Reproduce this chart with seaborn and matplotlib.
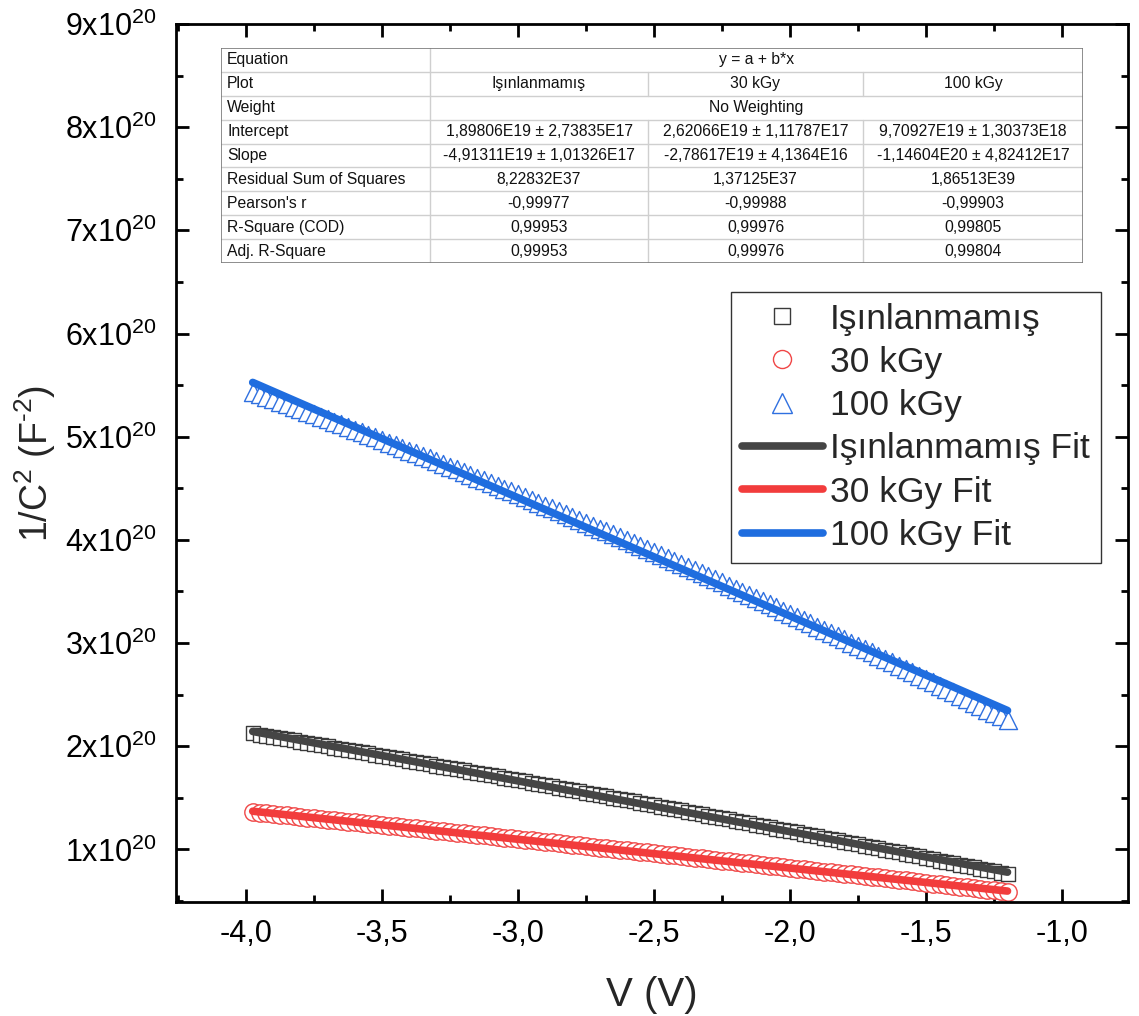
import numpy as np
import pandas as pd
import matplotlib
matplotlib.use("Agg")
import matplotlib.pyplot as plt
import seaborn as sns
from matplotlib.lines import Line2D
from matplotlib.patches import Rectangle
from matplotlib.ticker import MultipleLocator

# ---------------- data (1/C^2 in units of 1e20 F^-2) ----------------
voltage = [
    -3.975, -3.950, -3.925, -3.900, -3.875, -3.850, -3.825, -3.800,
    -3.775, -3.750, -3.725, -3.700, -3.675, -3.650, -3.625, -3.600,
    -3.575, -3.550, -3.525, -3.500, -3.475, -3.450, -3.425, -3.400,
    -3.375, -3.350, -3.325, -3.300, -3.275, -3.250, -3.225, -3.200,
    -3.175, -3.150, -3.125, -3.100, -3.075, -3.050, -3.025, -3.000,
    -2.975, -2.950, -2.925, -2.900, -2.875, -2.850, -2.825, -2.800,
    -2.775, -2.750, -2.725, -2.700, -2.675, -2.650, -2.625, -2.600,
    -2.575, -2.550, -2.525, -2.500, -2.475, -2.450, -2.425, -2.400,
    -2.375, -2.350, -2.325, -2.300, -2.275, -2.250, -2.225, -2.200,
    -2.175, -2.150, -2.125, -2.100, -2.075, -2.050, -2.025, -2.000,
    -1.975, -1.950, -1.925, -1.900, -1.875, -1.850, -1.825, -1.800,
    -1.775, -1.750, -1.725, -1.700, -1.675, -1.650, -1.625, -1.600,
    -1.575, -1.550, -1.525, -1.500, -1.475, -1.450, -1.425, -1.400,
    -1.375, -1.350, -1.325, -1.300, -1.275, -1.250, -1.225, -1.200,
]

unirradiated = [
    2.124, 2.112, 2.101, 2.090, 2.078, 2.067, 2.056, 2.044,
    2.033, 2.022, 2.010, 1.999, 1.987, 1.976, 1.964, 1.953,
    1.941, 1.930, 1.918, 1.907, 1.895, 1.883, 1.872, 1.860,
    1.848, 1.837, 1.825, 1.813, 1.801, 1.790, 1.778, 1.766,
    1.754, 1.742, 1.730, 1.719, 1.707, 1.695, 1.683, 1.671,
    1.659, 1.647, 1.635, 1.623, 1.611, 1.599, 1.587, 1.574,
    1.562, 1.550, 1.538, 1.526, 1.514, 1.501, 1.489, 1.477,
    1.465, 1.452, 1.440, 1.428, 1.415, 1.403, 1.390, 1.378,
    1.366, 1.353, 1.341, 1.328, 1.316, 1.303, 1.291, 1.278,
    1.266, 1.253, 1.240, 1.228, 1.215, 1.202, 1.190, 1.177,
    1.164, 1.151, 1.139, 1.126, 1.113, 1.100, 1.087, 1.075,
    1.062, 1.049, 1.036, 1.023, 1.010, 0.997, 0.984, 0.971,
    0.958, 0.945, 0.932, 0.919, 0.906, 0.892, 0.879, 0.866,
    0.853, 0.840, 0.827, 0.813, 0.800, 0.787, 0.773, 0.760,
]

kgy30 = [
    1.362, 1.355, 1.349, 1.342, 1.336, 1.329, 1.322, 1.316,
    1.309, 1.303, 1.296, 1.289, 1.283, 1.276, 1.269, 1.263,
    1.256, 1.250, 1.243, 1.236, 1.229, 1.223, 1.216, 1.209,
    1.203, 1.196, 1.189, 1.182, 1.176, 1.169, 1.162, 1.155,
    1.149, 1.142, 1.135, 1.128, 1.121, 1.114, 1.108, 1.101,
    1.094, 1.087, 1.080, 1.073, 1.067, 1.060, 1.053, 1.046,
    1.039, 1.032, 1.025, 1.018, 1.011, 1.004, 0.997, 0.990,
    0.983, 0.976, 0.970, 0.963, 0.955, 0.949, 0.942, 0.934,
    0.927, 0.920, 0.913, 0.906, 0.899, 0.892, 0.885, 0.878,
    0.871, 0.864, 0.857, 0.850, 0.843, 0.835, 0.828, 0.821,
    0.814, 0.807, 0.800, 0.792, 0.785, 0.778, 0.771, 0.764,
    0.757, 0.749, 0.742, 0.735, 0.728, 0.720, 0.713, 0.706,
    0.699, 0.691, 0.684, 0.677, 0.669, 0.662, 0.655, 0.647,
    0.640, 0.633, 0.625, 0.618, 0.611, 0.603, 0.596, 0.589,
]

kgy100 = [
    5.435, 5.411, 5.388, 5.364, 5.340, 5.315, 5.291, 5.267,
    5.243, 5.218, 5.194, 5.169, 5.144, 5.119, 5.094, 5.069,
    5.044, 5.019, 4.994, 4.969, 4.943, 4.918, 4.892, 4.866,
    4.840, 4.815, 4.789, 4.762, 4.736, 4.710, 4.684, 4.657,
    4.631, 4.604, 4.577, 4.551, 4.524, 4.497, 4.470, 4.443,
    4.415, 4.388, 4.361, 4.333, 4.306, 4.278, 4.250, 4.222,
    4.194, 4.166, 4.138, 4.110, 4.082, 4.053, 4.025, 3.996,
    3.968, 3.939, 3.910, 3.881, 3.852, 3.823, 3.794, 3.765,
    3.735, 3.706, 3.676, 3.647, 3.617, 3.587, 3.557, 3.527,
    3.497, 3.467, 3.437, 3.406, 3.376, 3.345, 3.315, 3.284,
    3.253, 3.222, 3.192, 3.160, 3.129, 3.098, 3.067, 3.035,
    3.004, 2.972, 2.941, 2.909, 2.877, 2.845, 2.813, 2.781,
    2.749, 2.716, 2.684, 2.652, 2.619, 2.586, 2.554, 2.521,
    2.488, 2.455, 2.422, 2.389, 2.355, 2.322, 2.288, 2.255,
]

# linear fit lines (end points over the data range)
fit_voltage = [-3.975, -1.200]
fit_unirradiated = [2.143, 0.779]
fit_30 = [1.370, 0.596]
fit_100 = [5.526, 2.346]

UNIT = 1e20

series_names = ["Işınlanmamış", "30 kGy", "100 kGy"]
fit_names = ["Işınlanmamış Fit", "30 kGy Fit", "100 kGy Fit"]

x_ticks = [-4.0, -3.5, -3.0, -2.5, -2.0, -1.5, -1.0]
x_tick_labels = ["-4,0", "-3,5", "-3,0", "-2,5", "-2,0", "-1,5", "-1,0"]
y_ticks = [1, 2, 3, 4, 5, 6, 7, 8, 9]
y_tick_labels = [r"$\mathregular{%dx10^{20}}$" % v for v in y_ticks]

table_rows = ["Equation", "Plot", "Weight", "Intercept", "Slope",
              "Residual Sum of Squares", "Pearson's r", "R-Square (COD)",
              "Adj. R-Square"]
equation_txt = "y = a + b*x"
weight_txt = "No Weighting"
intercept_txt = ["1,89806E19 ± 2,73835E17", "2,62066E19 ± 1,11787E17",
                 "9,70927E19 ± 1,30373E18"]
slope_txt = ["-4,91311E19 ± 1,01326E17", "-2,78617E19 ± 4,1364E16",
             "-1,14604E20 ± 4,82412E17"]
rss_txt = ["8,22832E37", "1,37125E37", "1,86513E39"]
pearson_txt = ["-0,99977", "-0,99988", "-0,99903"]
rsq_txt = ["0,99953", "0,99976", "0,99805"]
adjrsq_txt = ["0,99953", "0,99976", "0,99804"]

# ---------------- style ----------------
sns.set_theme(style="ticks")
plt.rcParams["font.family"] = ["Liberation Sans", "DejaVu Sans"]
plt.rcParams["mathtext.fontset"] = "custom"
plt.rcParams["mathtext.rm"] = "Liberation Sans"
plt.rcParams["mathtext.it"] = "Liberation Sans:italic"
plt.rcParams["axes.unicode_minus"] = False

edge_cols = ["#3a3a3a", "#f04646", "#2f70e0"]
line_cols = ["#454545", "#f23c3c", "#1f6ddf"]
markers = ["s", "o", "^"]
msizes = [10.0, 12.5, 13.0]

fig = plt.figure(figsize=(11.39, 10.16), dpi=100)
ax = fig.add_axes([176 / 1139, 1 - 902 / 1016, (1128 - 176) / 1139, (902 - 24) / 1016])

data_series = [unirradiated, kgy30, kgy100]
for vals, m, ms, ec in zip(data_series, markers, msizes, edge_cols):
    df = pd.DataFrame({"V": voltage, "invC2": np.array(vals) * UNIT})
    sns.scatterplot(data=df, x="V", y="invC2", ax=ax, marker=m, s=ms ** 2,
                    facecolor="white", edgecolor=ec, linewidth=1.0, zorder=2,
                    legend=False)

fit_series = [fit_unirradiated, fit_30, fit_100]
for vals, lc in zip(fit_series, line_cols):
    dff = pd.DataFrame({"V": fit_voltage, "invC2": np.array(vals) * UNIT})
    sns.lineplot(data=dff, x="V", y="invC2", ax=ax, color=lc, lw=5.5,
                 solid_capstyle="round", zorder=3, legend=False)

ax.set_xlim(-4.257, -0.757)
ax.set_ylim(0.49 * UNIT, 9.0 * UNIT)
ax.set_xticks(x_ticks)
ax.set_xticklabels(x_tick_labels)
ax.set_yticks([v * UNIT for v in y_ticks])
ax.set_yticklabels(y_tick_labels)
ax.xaxis.set_minor_locator(MultipleLocator(0.25))
ax.yaxis.set_minor_locator(MultipleLocator(0.5 * UNIT))

for sp in ax.spines.values():
    sp.set_linewidth(2.0)
    sp.set_color("black")
ax.tick_params(which="both", direction="in", top=True, right=True,
               colors="black", width=2.0)
ax.tick_params(which="major", length=9.5)
ax.tick_params(which="minor", length=5)
ax.tick_params(axis="x", which="major", labelsize=22, pad=12)
ax.tick_params(axis="y", which="major", labelsize=22, pad=14)

ax.set_xlabel("V (V)", fontsize=29, labelpad=20)
ax.set_ylabel("$\\mathregular{1/C^{2}\\ (F^{\u20102})}$",
              fontsize=27, labelpad=5)
ax.set_facecolor("white")

# ---------------- legend ----------------
handles = []
for m, ms, ec in zip(markers, [12, 13, 15], edge_cols):
    handles.append(Line2D([], [], ls="none", marker=m, markersize=ms,
                          markerfacecolor="white", markeredgecolor=ec,
                          markeredgewidth=1.0))
for lc in line_cols:
    handles.append(Line2D([], [], color=lc, lw=5.5, solid_capstyle="round"))
leg = ax.legend(handles, series_names + fit_names, loc="upper left",
                bbox_to_anchor=(731 / 1139, 1 - 292 / 1016),
                bbox_transform=fig.transFigure, fontsize=25.5,
                frameon=True, fancybox=False, shadow=False,
                edgecolor="#333333", framealpha=1, borderpad=0.3,
                handlelength=2.3, handletextpad=0.2, labelspacing=0.29,
                borderaxespad=0)
leg.get_frame().set_linewidth(1.0)

# ---------------- statistics table ----------------
tx0, tx1, ty0, ty1 = 221, 1083, 48, 263
tab = fig.add_axes([tx0 / 1139, 1 - ty1 / 1016, (tx1 - tx0) / 1139, (ty1 - ty0) / 1016])
tab.set_xlim(0, 1)
tab.set_ylim(9, 0)
tab.axis("off")
tab.add_patch(Rectangle((0, 0), 1, 9, facecolor="white", edgecolor="none", zorder=0))
cols = [(430 - tx0) / (tx1 - tx0), (648 - tx0) / (tx1 - tx0), (863 - tx0) / (tx1 - tx0)]
grid_c = "#cfcfcf"
for r in range(1, 9):
    tab.plot([0, 1], [r, r], color=grid_c, lw=1.0, zorder=1)
tab.plot([cols[0], cols[0]], [0, 9], color=grid_c, lw=1.0, zorder=1)
for c in cols[1:]:
    tab.plot([c, c], [1, 2], color=grid_c, lw=1.0, zorder=1)
    tab.plot([c, c], [3, 9], color=grid_c, lw=1.0, zorder=1)
tab.add_patch(Rectangle((0, 0), 1, 9, facecolor="none", edgecolor="#7a7a7a",
                        lw=1.2, zorder=3))

fs = 11.3
for r, lab in enumerate(table_rows):
    tab.text(0.007, r + 0.5, lab, ha="left", va="center", fontsize=fs, color="#111111")
centers = [(0 + cols[0]) / 2, (cols[0] + cols[1]) / 2, (cols[1] + cols[2]) / 2, (cols[2] + 1) / 2]
merged_c = (cols[0] + 1) / 2
tab.text(merged_c, 0.5, equation_txt, ha="center", va="center", fontsize=fs, color="#111111")
tab.text(merged_c, 2.5, weight_txt, ha="center", va="center", fontsize=fs, color="#111111")
rows_vals = [(1, series_names), (3, intercept_txt), (4, slope_txt), (5, rss_txt),
             (6, pearson_txt), (7, rsq_txt), (8, adjrsq_txt)]
for r, vals in rows_vals:
    for k, v in enumerate(vals):
        tab.text(centers[k + 1], r + 0.5, v, ha="center", va="center",
                 fontsize=fs, color="#111111")

fig.savefig("out.png", dpi=100, facecolor="white")
